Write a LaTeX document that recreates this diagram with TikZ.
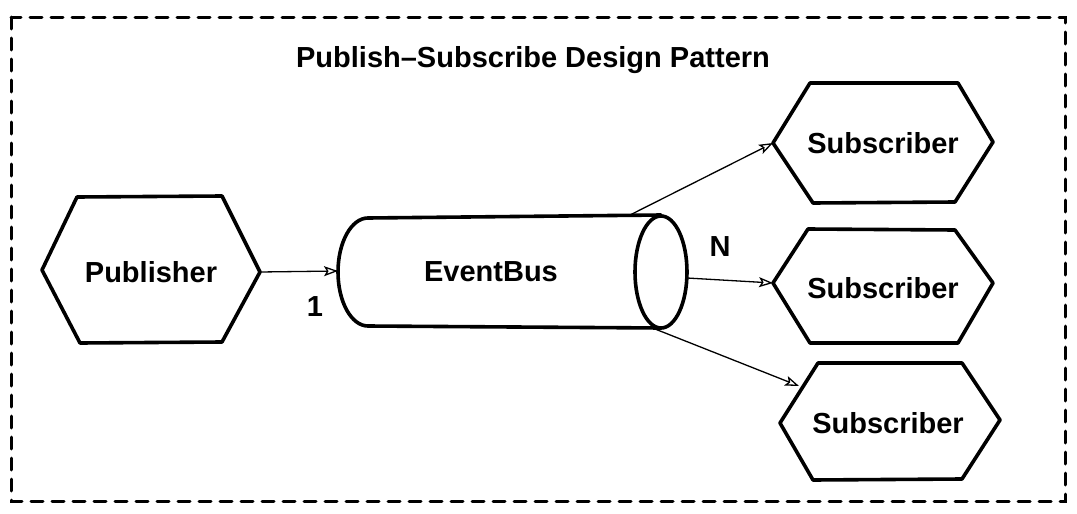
\documentclass[tikz,border=0pt]{standalone}
\usepackage{fontspec}
\setmainfont{Liberation Sans}
\usetikzlibrary{arrows.meta}
\begin{document}
\begin{tikzpicture}[x=1pt,y=-1pt,
  shapeline/.style={draw=black, line width=3.6pt, line join=round, line cap=round},
  conn/.style={draw=black, line width=1.3pt, -{Stealth[open, length=14pt, width=10pt, inset=3pt]}},
  lbl/.style={font=\fontsize{29}{32}\selectfont\bfseries, inner sep=0pt},
  frame/.style={draw=black, line width=3pt, dash pattern=on 12pt off 9pt, line cap=round}]
\useasboundingbox (0,0) rectangle (1077,514);
% frame
\draw[frame] (11,17) rectangle (1065,501);
\node[lbl] (title) at (533,60) {Publish–Subscribe Design Pattern};
% Publisher hexagon
\coordinate (pubR) at (260,272);
\draw[shapeline] (77,197) -- (222,196) -- (pubR) -- (222,342) -- (80,343) -- (42,270) -- cycle;
\node[lbl] (pub) at (151,272) {Publisher};
% EventBus cylinder
\coordinate (busL) at (338,271);
\coordinate (busTR) at (630,215);
\coordinate (busR) at (687,278);
\coordinate (busBR) at (650,327);
\draw[shapeline] (368,218) -- (661,215);
\draw[shapeline] (368,326) -- (661,328);
\draw[shapeline] (368,218) arc[start angle=-90, end angle=-270, x radius=30, y radius=54];
\draw[shapeline] (661,272) ellipse[x radius=26, y radius=56];
\node[lbl] (bus) at (491,272) {EventBus};
% Subscribers
\coordinate (s1L) at (773,143);
\draw[shapeline] (810,83) -- (958,83) -- (993,142) -- (955,202) -- (813,203) -- (s1L) -- cycle;
\node[lbl] (sub1) at (883,143) {Subscriber};
\coordinate (s2L) at (773,283);
\draw[shapeline] (808,229) -- (955,230) -- (993,283) -- (958,343) -- (810,343) -- (s2L) -- cycle;
\node[lbl] (sub2) at (883,288) {Subscriber};
\coordinate (s3L) at (799,386);
\draw[shapeline] (818,363) -- (962,363) -- (1000,420) -- (962,479) -- (813,480) -- (780,423) -- cycle;
\node[lbl] (sub3) at (888,423) {Subscriber};
% connectors
\draw[conn] (pubR) -- (busL);
\node[lbl] (one) at (315,307) {1};
\draw[conn] (busTR) -- (s1L);
\draw[conn] (busR) -- (s2L);
\draw[conn] (busBR) -- (s3L);
\node[lbl] (n) at (720,247) {N};
\end{tikzpicture}
\end{document}
